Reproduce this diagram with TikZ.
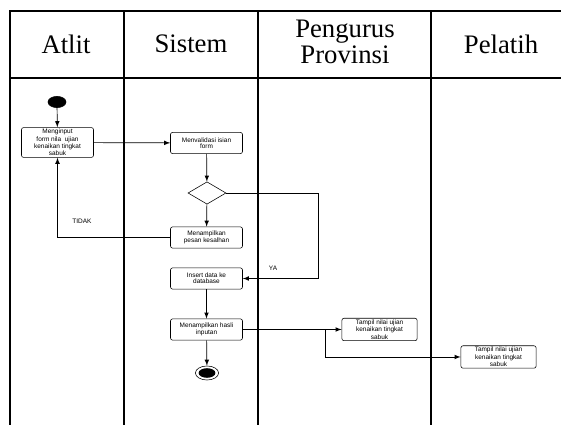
\documentclass[tikz,border=0pt]{standalone}
\usepackage{fontspec}
\setmainfont{Liberation Serif}
\newfontfamily\actfont{Liberation Sans}
\usepackage{tikz}
\usetikzlibrary{arrows,shapes}

\tikzset{
  act/.style={draw,rounded corners=1.5pt,minimum width=1.8cm,minimum height=0.53cm,
    align=center,inner sep=1pt,font=\actfont\fontsize{4.6}{4.1}\selectfont},
  lane/.style={line width=1.3pt},
  flow/.style={-latex,line width=0.5pt},
  head/.style={align=center,font=\fontsize{19}{18.5}\selectfont},
  lbl/.style={font=\actfont\fontsize{4.6}{5}\selectfont}
}

\begin{document}
\begin{tikzpicture}[x=0.025cm,y=-0.025cm]
    \useasboundingbox (0,0) rectangle (561,425);

    % swimlanes
    \draw[lane] (561,11) -- (10,11) -- (10,425);
    \draw[lane] (10,78) -- (561,78);
    \draw[lane] (124,11) -- (124,425);
    \draw[lane] (258,11) -- (258,425);
    \draw[lane] (431,11) -- (431,425);

    \node (hatlit) at (66,44) [head] {Atlit};
    \node (hsistem) at (191,44) [head] {Sistem};
    \node (hpengurus) at (345,42) [head] {Pengurus\\Provinsi};
    \node (hpelatih) at (501,44) [head] {Pelatih};

    % activities
    \node (start) at (57,102) [draw,fill=black,ellipse,minimum width=0.45cm,minimum height=0.28cm,inner sep=0] {};
    \node (input) at (57.5,142.5) [act] {Menginput\\form nila\ \ ujian\\kenaikan tingkat\\sabuk};
    \node (valid) at (206.5,143) [act] {Menvalidasi isian\\form};
    \node (cek) at (207,193) [draw,diamond,minimum width=0.95cm,minimum height=0.56cm,inner sep=0] {};
    \node (salah) at (206.5,237.5) [act] {Menampilkan\\pesan kesalhan};
    \node (insert) at (206.5,278.5) [act] {Insert data ke\\database};
    \node (hasil) at (206.5,329.5) [act] {Menampilkan hasli\\inputan};
    \node (finish) at (207,373) [draw,ellipse,minimum width=0.58cm,minimum height=0.35cm,inner sep=0] {};
    \node at (finish) [fill=black,ellipse,minimum width=0.42cm,minimum height=0.24cm,inner sep=0] {};
    \node (tampilpp) at (379.5,329.5) [act,minimum width=1.88cm] {Tampil nilai ujian\\kenaikan tingkat\\sabuk};
    \node (tampilpl) at (498.5,357) [act,minimum width=1.88cm] {Tampil nilai ujian\\kenaikan tingkat\\sabuk};

    \coordinate (ya) at (318,193);
    \coordinate (cabang) at (325,329.5);

    % flows
    \draw[flow] (start) -- (input);
    \draw[flow] (input) -- (valid);
    \draw[flow] (valid) -- (cek);
    \draw[flow] (cek) -- (salah);
    \draw[flow] (salah.west) -| (input.south);
    \draw[flow] (cek.east) -- (ya) |- (insert.east);
    \draw[flow] (insert) -- (hasil);
    \draw[flow] (hasil) -- (finish);
    \draw[flow] (hasil.east) -- (tampilpp.west);
    \draw[flow] (cabang) |- (tampilpl.west);

    \node (tidak) at (82,221) [lbl] {TIDAK};
    \node (yalbl) at (273,268) [lbl] {YA};
\end{tikzpicture}
\end{document}
